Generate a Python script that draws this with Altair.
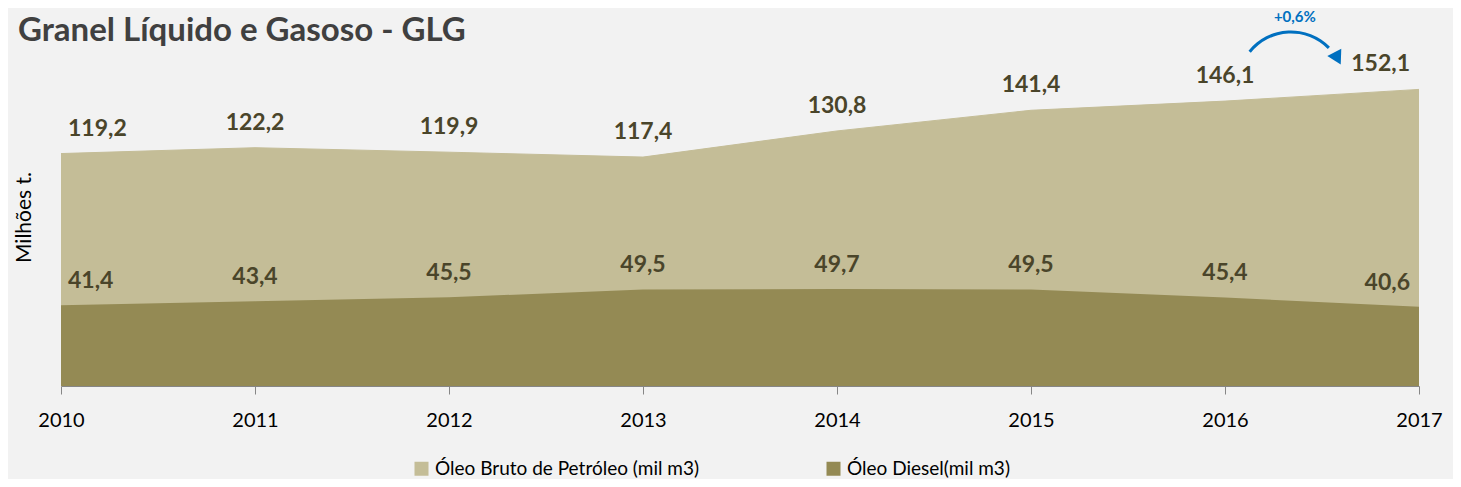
import altair as alt
import pandas as pd

years = [2010, 2011, 2012, 2013, 2014, 2015, 2016, 2017]
crude = [119.2, 122.2, 119.9, 117.4, 130.8, 141.4, 146.1, 152.1]
diesel = [41.4, 43.4, 45.5, 49.5, 49.7, 49.5, 45.4, 40.6]
series_names = ["Óleo Bruto de Petróleo (mil m3)", "Óleo Diesel(mil m3)"]
series_colors = ["#C4BD97", "#948A54"]
title_text = "Granel Líquido e Gasoso - GLG"

# annotation (growth arrow) anchor values in data units
growth_text = "+0,6%"
arrow_x, arrow_y = 2016.34, 154.4
head_x, head_y = 2016.58, 168.0
growth_x, growth_y = 2016.36, 189.0

rows = []
for name, vals in zip(series_names, [crude, diesel]):
    for yr, v in zip(years, vals):
        rows.append({"ano": yr, "serie": name, "valor": v,
                     "rotulo": f"{v:.1f}".replace(".", ",")})
df = pd.DataFrame(rows)

x_enc = alt.X("ano:Q", scale=alt.Scale(domain=[2010, 2017], nice=False, zero=False),
              axis=alt.Axis(values=years, format="d", title=None, grid=False,
                            domainColor="#868686", tickColor="#868686", tickSize=8,
                            labelFontSize=20, labelFontWeight="normal", labelColor="#000000",
                            labelPadding=16, labelFlush=False))
y_enc = alt.Y("valor:Q", scale=alt.Scale(domain=[0, 160], nice=False),
              axis=alt.Axis(labels=False, ticks=False, domain=False, grid=False,
                            title="Milhões t.", titleFontSize=21, titleFontWeight="normal",
                            titleColor="#000000", titleX=-37, titleY=143, titleAngle=-90,
                            titleAlign="center", titleBaseline="middle"))
color_enc = alt.Color("serie:N",
                      scale=alt.Scale(domain=series_names, range=series_colors),
                      legend=alt.Legend(title=None, orient="none", direction="horizontal",
                                        legendX=351, legendY=385, symbolType="square",
                                        symbolSize=196, symbolStrokeWidth=0,
                                        labelFontSize=19, labelColor="#000000",
                                        labelOffset=4, columnPadding=124, labelLimit=400))

base = alt.Chart(df)

crude_area = base.transform_filter(alt.datum.serie == series_names[0]).mark_area(
    opacity=1, line={"color": "#D6D1B4", "strokeWidth": 1}).encode(
    x=x_enc, y=y_enc, color=color_enc)
diesel_area = base.transform_filter(alt.datum.serie == series_names[1]).mark_area(
    opacity=1).encode(x=x_enc, y=y_enc, color=color_enc)

label_style = dict(font="Lato", fontSize=23, fontWeight="bold", color="#4A452A",
                   baseline="middle")

def labels(series, dy):
    src = base.transform_filter(alt.datum.serie == series)
    mid = src.transform_filter((alt.datum.ano > 2010) & (alt.datum.ano < 2017)).mark_text(
        align="center", dy=dy, **label_style).encode(x="ano:Q", y="valor:Q", text="rotulo:N")
    first = src.transform_filter(alt.datum.ano == 2010).mark_text(
        align="left", dx=7, dy=dy, **label_style).encode(x="ano:Q", y="valor:Q", text="rotulo:N")
    last = src.transform_filter(alt.datum.ano == 2017).mark_text(
        align="right", dx=-9, dy=dy, **label_style).encode(x="ano:Q", y="valor:Q", text="rotulo:N")
    return [mid, first, last]

ann = pd.DataFrame({"x": [arrow_x], "y": [arrow_y], "hx": [head_x], "hy": [head_y],
                    "tx": [growth_x], "ty": [growth_y], "t": [growth_text]})
ann_base = alt.Chart(ann)
arc = ann_base.mark_arc(color="#0070C0").encode(
    x="x:Q", y="y:Q", theta=alt.value(5.39), theta2=alt.value(7.08),
    radius=alt.value(54.5), radius2=alt.value(51.5))
head = ann_base.mark_point(shape="triangle-down", filled=True, color="#0070C0",
                           size=250, opacity=1, angle=332).encode(x="hx:Q", y="hy:Q")
gtxt = ann_base.mark_text(font="Lato", fontSize=15, fontWeight="bold", color="#0070C0",
                          baseline="middle").encode(x="tx:Q", y="ty:Q", text="t:N")

title_df = pd.DataFrame({"t": [title_text]})
title_mark = alt.Chart(title_df).mark_text(
    font="Lato", fontSize=33, fontWeight="bold", color="#404040",
    align="left", baseline="alphabetic").encode(
    x=alt.value(-43), y=alt.value(-33), text="t:N")

chart = alt.layer(
    crude_area, diesel_area,
    *labels(series_names[0], -25), *labels(series_names[1], -24),
    arc, head, gtxt, title_mark
).properties(
    width=1358, height=312,
    autosize=alt.AutoSizeParams(type="none"),
    padding={"left": 53, "top": 66, "right": 34, "bottom": 93},
).configure(font="Lato", background="#F2F2F2").configure_view(stroke=None, clip=False)

chart.save("out.html", embed_options={"renderer": "svg", "actions": False})
